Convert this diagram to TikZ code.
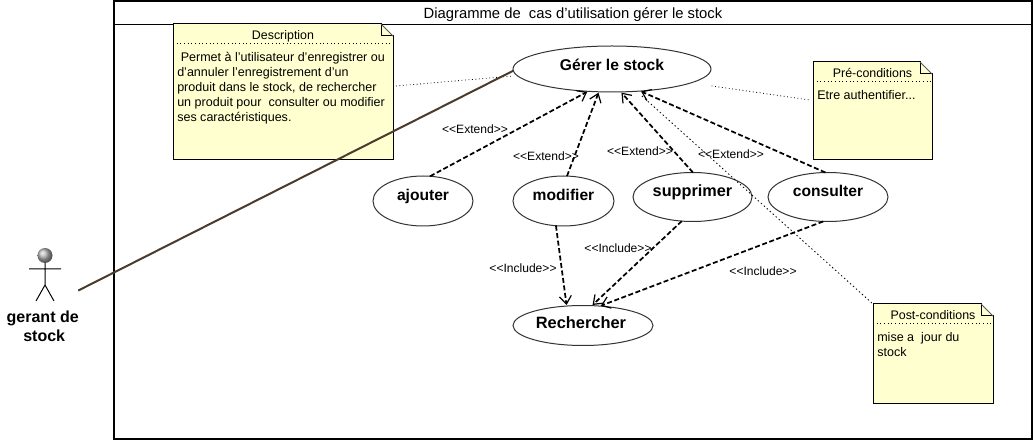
\documentclass[tikz,border=0pt]{standalone}
\usepackage{fontspec}
\newfontfamily\fnt{Liberation Sans}
\usetikzlibrary{shapes.geometric,arrows.meta}
\definecolor{notefill}{HTML}{FFFFD0}
\definecolor{assoc}{HTML}{4A3B2C}
\newdimen\pxu \pxu=0.75pt
\newcommand{\sizefont}[1]{\fontsize{#1}{11.25pt}\selectfont}
\newcommand{\ucbase}[2]{\raisebox{#1\pxu}[0pt][0pt]{#2}}
\newcommand{\notebox}[7]{%
  \node[notenode,minimum width={(#4-#2)*0.75pt},minimum height={(#5-#3)*0.75pt}] (#1) at ({(#2+#4)/2},{(#3+#5)/2}) {};
  \fill[notefill] (#1.north west) -- ({#4-12},#3) -- (#4,{#3+12}) -- (#1.south east) -- (#1.south west) -- cycle;
  \draw[noteline,line join=miter] ({#4-12},{#3+12}) -- ({#4-12},#3) -- (#1.north west) -- (#1.south west) -- (#1.south east) -- (#4,{#3+12}) -- cycle;
  \draw[line width=0.6pt,black!65] ({#4-12},#3) -- (#4,{#3+12});
  \draw[line width=0.75pt,dotted] (#2,{#3+20}) -- (#4,{#3+20});
  \node[notetitle] (#1title) at ({(#2+#4)/2},{#3+15.4}) {#6};
  \node[notebody] (#1body) at ({#2+4},{#3+28.3}) {#7};
}
\tikzset{
  px/.style={x=0.75pt,y=-0.75pt},
  every node/.style={font=\fnt},
  frameline/.style={line width=1.5pt,black},
  notenode/.style={rectangle,inner sep=0pt,outer sep=0pt},
  noteline/.style={line width=0.75pt,black},
  notetitle/.style={anchor=base,inner sep=0pt,font=\fnt\sizefont{9.3pt}},
  notebody/.style={anchor=north west,inner sep=0pt,align=left,font=\fnt\sizefont{9.4pt}},
  usecase/.style={ellipse,draw=black!80,line width=0.75pt,inner sep=0pt,outer sep=0pt,font=\fnt\bfseries\fontsize{11.7pt}{14pt}\selectfont},
  stereo/.style={inner sep=0pt,font=\fnt\sizefont{9.05pt}},
  dep/.style={line width=1.3pt,dash pattern=on 3.75pt off 1.9pt,-{Straight Barb[length=6pt,width=9pt,line width=0.9pt]},shorten >=0.75pt},
  notelink/.style={line width=0.6pt,dotted},
}
\begin{document}
\begin{tikzpicture}[px]
\useasboundingbox (0,0) rectangle (1034,441);
\fill[white] (0,0) rectangle (1034,441);
% frame
\draw[frameline] (114,1) rectangle (1032,439);
\draw[line width=0.75pt,black] (114,25) -- (1032,25);
\node[inner sep=0pt,anchor=base,font=\fnt\fontsize{11.1pt}{14pt}\selectfont] (title) at (573,18.5) {Diagramme de\ \ cas d’utilisation gérer le stock};
% notes
\notebox{desc}{173}{24}{393}{160}{Description}{\ Permet à l’utilisateur d’enregistrer ou\\d’annuler l’enregistrement d’un\\produit dans le stock, de rechercher\\un produit pour\ \ consulter ou modifier\\ses caractéristiques.}
\notebox{pre}{813}{62}{932}{160}{Pré-conditions}{Etre authentifier...}
\notebox{post}{873}{304}{993}{403}{Post-conditions}{mise a\ \ jour du\\stock}
% use cases
\node[usecase,minimum width=148.5pt,minimum height=34.5pt] (gerer) at (612,69) {\ucbase{-2}{Gérer le stock}};
\node[usecase,minimum width=75pt,minimum height=37.5pt] (ajouter) at (423,201) {\ucbase{0}{ajouter}};
\node[usecase,minimum width=75.75pt,minimum height=37.5pt] (modifier) at (563.5,201) {\ucbase{0}{modifier}};
\node[usecase,minimum width=89.25pt,minimum height=36.75pt,font=\fnt\bfseries\fontsize{12.2pt}{14pt}\selectfont] (supprimer) at (692.5,197) {\ucbase{0}{supprimer}};
\node[usecase,minimum width=90pt,minimum height=36.75pt] (consulter) at (828,197) {\ucbase{0}{consulter}};
\node[usecase,minimum width=105pt,minimum height=30pt,font=\fnt\bfseries\fontsize{12.3pt}{14pt}\selectfont] (rechercher) at (583,325.5) {\ucbase{-3.5}{Rechercher}\hspace*{3pt}};
% actor
\node[inner sep=0pt,minimum width=24pt,minimum height=39pt] (actor) at (45,275) {};
\shade[ball color=gray!60] (45,255.5) circle (7.5);
\draw[line width=0.75pt,black] (45,263) -- (45,285) (29,269) -- (61,269) (36,301) -- (45,285) -- (54,301);
\node[inner sep=0pt,align=center,font=\fnt\bfseries\fontsize{12pt}{14.2pt}\selectfont] (actorlabel) at (42.7,326) {gerant de\\\hspace*{2.25pt}stock};
% note links
\draw[notelink,shorten <=2.25pt,shorten >=3pt] (desc.3.6) -- (gerer.184);
\draw[notelink,shorten <=15.75pt,shorten >=1.5pt] (gerer.350.4) -- (pre.170.5);
\draw[line width=0.6pt,dash pattern=on 1.1pt off 1.9pt,shorten <=5.25pt] (gerer.318) -- (post.north west);
% association
\draw[line width=1.5pt,assoc,shorten <=14.25pt] (actor.304) -- (gerer.181.5);
% extend
\draw[dep] (ajouter.74) -- (gerer.223);
\draw[dep] (modifier.82) -- (gerer.240);
\draw[dep] (supprimer.89) -- (gerer.291);
\draw[dep] (consulter.96) -- (gerer.322);
% include
\draw[dep] (modifier.253) -- (rechercher.130);
\draw[dep] (supprimer.246) -- (rechercher.66);
\draw[dep] (consulter.259) -- (rechercher.49);
% labels
\node[stereo] (e1) at (475,129) {<<Extend>>};
\node[stereo] (e2) at (546,156) {<<Extend>>};
\node[stereo] (e3) at (640,151) {<<Extend>>};
\node[stereo] (e4) at (731,154) {<<Extend>>};
\node[stereo] (i1) at (523,268) {<<Include>>};
\node[stereo] (i2) at (618,248) {<<Include>>};
\node[stereo] (i3) at (763,271) {<<Include>>};
\end{tikzpicture}
\end{document}
